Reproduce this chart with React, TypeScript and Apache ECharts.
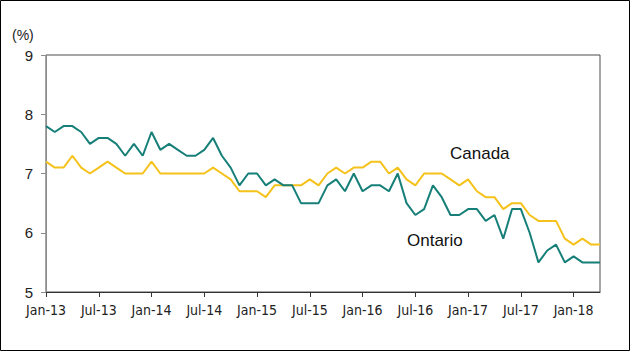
import React, { useEffect, useRef } from "react";
import * as echarts from "echarts";

const months: string[] = [
  "Jan-13","Feb-13","Mar-13","Apr-13","May-13","Jun-13","Jul-13","Aug-13","Sep-13","Oct-13","Nov-13","Dec-13",
  "Jan-14","Feb-14","Mar-14","Apr-14","May-14","Jun-14","Jul-14","Aug-14","Sep-14","Oct-14","Nov-14","Dec-14",
  "Jan-15","Feb-15","Mar-15","Apr-15","May-15","Jun-15","Jul-15","Aug-15","Sep-15","Oct-15","Nov-15","Dec-15",
  "Jan-16","Feb-16","Mar-16","Apr-16","May-16","Jun-16","Jul-16","Aug-16","Sep-16","Oct-16","Nov-16","Dec-16",
  "Jan-17","Feb-17","Mar-17","Apr-17","May-17","Jun-17","Jul-17","Aug-17","Sep-17","Oct-17","Nov-17","Dec-17",
  "Jan-18","Feb-18","Mar-18","Apr-18",
];

const ontario: number[] = [
  7.8, 7.7, 7.8, 7.8, 7.7, 7.5, 7.6, 7.6, 7.5, 7.3, 7.5, 7.3,
  7.7, 7.4, 7.5, 7.4, 7.3, 7.3, 7.4, 7.6, 7.3, 7.1, 6.8, 7.0,
  7.0, 6.8, 6.9, 6.8, 6.8, 6.5, 6.5, 6.5, 6.8, 6.9, 6.7, 7.0,
  6.7, 6.8, 6.8, 6.7, 7.0, 6.5, 6.3, 6.4, 6.8, 6.6, 6.3, 6.3,
  6.4, 6.4, 6.2, 6.3, 5.9, 6.4, 6.4, 6.0, 5.5, 5.7, 5.8, 5.5,
  5.6, 5.5, 5.5, 5.5,
];

const canada: number[] = [
  7.2, 7.1, 7.1, 7.3, 7.1, 7.0, 7.1, 7.2, 7.1, 7.0, 7.0, 7.0,
  7.2, 7.0, 7.0, 7.0, 7.0, 7.0, 7.0, 7.1, 7.0, 6.9, 6.7, 6.7,
  6.7, 6.6, 6.8, 6.8, 6.8, 6.8, 6.9, 6.8, 7.0, 7.1, 7.0, 7.1,
  7.1, 7.2, 7.2, 7.0, 7.1, 6.9, 6.8, 7.0, 7.0, 7.0, 6.9, 6.8,
  6.9, 6.7, 6.6, 6.6, 6.4, 6.5, 6.5, 6.3, 6.2, 6.2, 6.2, 5.9,
  5.8, 5.9, 5.8, 5.8,
];

const yTicks = { min: 5, max: 9, step: 1 };
const labelEvery = 6;

export default function App() {
  const ref = useRef<HTMLDivElement>(null);
  useEffect(() => {
    document.body.style.margin = "0";
    if (!ref.current) return;
    const chart = echarts.init(ref.current, undefined, { renderer: "svg" });
    const showIdx = (i: number) => i % labelEvery === 0;
    chart.setOption({
      animation: false,
      backgroundColor: "#ffffff",
      grid: {
        left: 46,
        right: 30,
        top: 55,
        bottom: 59,
        show: true,
        borderColor: "#4d4d4d",
        borderWidth: 1,
        backgroundColor: "transparent",
      },
      xAxis: {
        type: "category",
        data: months,
        boundaryGap: false,
        axisLine: { lineStyle: { color: "#333333", width: 1 } },
        axisTick: { interval: (i: number) => showIdx(i), length: 5, lineStyle: { color: "#333333" } },
        axisLabel: {
          interval: (i: number) => showIdx(i),
          color: "#222222",
          fontSize: 14,
          fontFamily: "'Liberation Sans Narrow', 'Arial Narrow', 'DejaVu Sans Condensed', sans-serif",
          margin: 11,
        },
        splitLine: { show: false },
      },
      yAxis: {
        type: "value",
        min: yTicks.min,
        max: yTicks.max,
        interval: yTicks.step,
        axisLine: { show: true, lineStyle: { color: "#8c8c8c", width: 1 } },
        axisTick: { show: true, length: 5, lineStyle: { color: "#8c8c8c" } },
        axisLabel: {
          color: "#222222",
          fontSize: 15,
          fontFamily: "'Liberation Sans', Arial, sans-serif",
          margin: 13,
        },
        splitLine: { show: false },
      },
      series: [
        {
          name: "Canada",
          type: "line",
          data: canada,
          symbol: "none",
          lineStyle: { color: "#f5c21b", width: 2 },
          z: 3,
        },
        {
          name: "Ontario",
          type: "line",
          data: ontario,
          symbol: "none",
          lineStyle: { color: "#167f78", width: 2 },
          z: 4,
        },
      ],
      graphic: [
        {
          type: "rect",
          shape: { x: 0.5, y: 0.5, width: 629, height: 350 },
          style: { fill: "none", stroke: "#000000", lineWidth: 1 },
          silent: true,
        },
        {
          type: "text",
          x: 12,
          y: 35,
          style: {
            text: "(%)",
            fill: "#222222",
            font: "14px 'Liberation Sans', Arial, sans-serif",
            verticalAlign: "middle",
          },
        },
        {
          type: "text",
          x: 450,
          y: 153,
          style: {
            text: "Canada",
            fill: "#111111",
            font: "17px 'Liberation Sans', Arial, sans-serif",
            verticalAlign: "middle",
          },
        },
        {
          type: "text",
          x: 407,
          y: 240,
          style: {
            text: "Ontario",
            fill: "#111111",
            font: "17px 'Liberation Sans', Arial, sans-serif",
            verticalAlign: "middle",
          },
        },
      ],
    });
    return () => chart.dispose();
  }, []);
  return <div ref={ref} style={{ width: 630, height: 351 }} />;
}
